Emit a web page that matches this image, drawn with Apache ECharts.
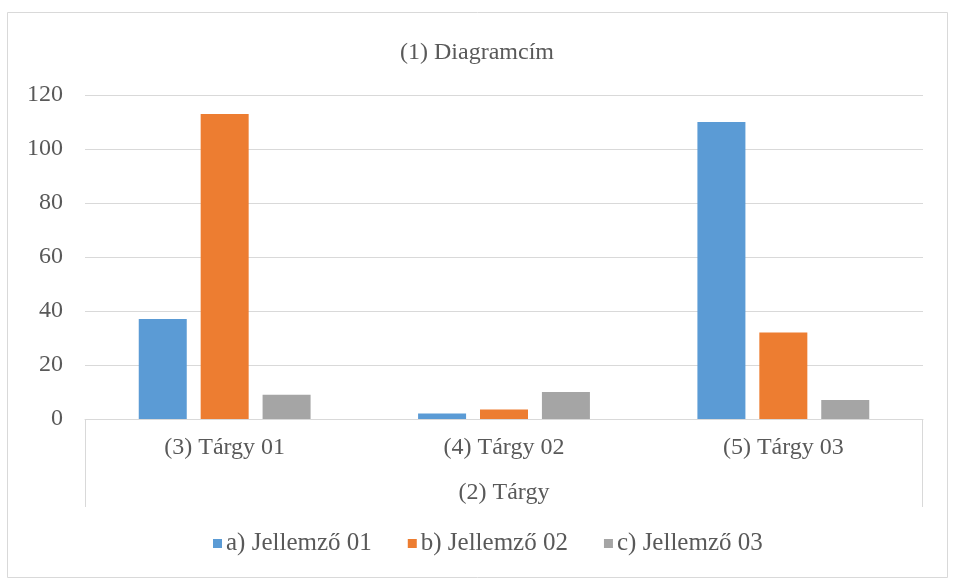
<!DOCTYPE html>
<html>
<head>
<meta charset="utf-8">
<script src="https://cdn.jsdelivr.net/npm/echarts@6/dist/echarts.min.js"></script>
<style>
  html, body { margin: 0; padding: 0; background: #ffffff; }
  #chart { width: 954px; height: 584px; }
</style>
</head>
<body>
<div id="chart"></div>
<script>
// Category labels, series names and values
const categories = ['(3) Tárgy 01', '(4) Tárgy 02', '(5) Tárgy 03'];
const seriesNames = ['a) Jellemző 01', 'b) Jellemző 02', 'c) Jellemző 03'];
const jellemzo01 = [37, 2, 110];
const jellemzo02 = [113, 3.5, 32];
const jellemzo03 = [9, 10, 7];
const yTicks = { min: 0, max: 120, interval: 20 };

const colors = ['#5B9BD5', '#ED7D31', '#A5A5A5'];
const textColor = '#595959';
const lineColor = '#D9D9D9';
const serif = '"Liberation Serif", "Times New Roman", serif';

const W = 954, H = 584;
const grid = { left: 85, right: 31, top: 95, bottom: 165 };
const axisY = H - grid.bottom;

const chart = echarts.init(document.getElementById('chart'), null, { renderer: 'canvas' });

const seriesData = [jellemzo01, jellemzo02, jellemzo03];

chart.setOption({
  backgroundColor: '#ffffff',
  animation: false,
  color: colors,
  title: {
    text: '(1) Diagramcím',
    left: 'center',
    top: 36,
    textStyle: { fontFamily: serif, fontSize: 24, fontWeight: 'normal', color: textColor }
  },
  grid: grid,
  legend: {
    bottom: 23,
    left: 208,
    icon: 'rect',
    itemWidth: 9,
    itemHeight: 9,
    itemGap: 36,
    textStyle: { fontFamily: serif, fontSize: 25, color: textColor, padding: [0, 0, 0, -1] },
    data: seriesNames
  },
  xAxis: {
    type: 'category',
    data: categories,
    name: '(2) Tárgy',
    nameLocation: 'middle',
    nameGap: 62,
    nameTextStyle: { fontFamily: serif, fontSize: 24, color: textColor },
    axisLine: { show: true, lineStyle: { color: lineColor, width: 1 } },
    axisTick: { show: false },
    axisLabel: { fontFamily: serif, fontSize: 24, color: textColor, margin: 17 }
  },
  yAxis: {
    type: 'value',
    min: yTicks.min,
    max: yTicks.max,
    interval: yTicks.interval,
    axisLine: { show: false },
    axisTick: { show: false },
    axisLabel: { fontFamily: serif, fontSize: 24, color: textColor, margin: 22 },
    splitLine: { lineStyle: { color: lineColor, width: 1 } }
  },
  series: seriesNames.map((name, i) => ({
    name: name,
    type: 'bar',
    data: seriesData[i],
    barWidth: 48,
    barGap: '29%',
    itemStyle: { color: colors[i] }
  })),
  graphic: [
    // outer chart frame
    {
      type: 'rect',
      shape: { x: 7.5, y: 12.5, width: 940, height: 565 },
      style: { fill: null, stroke: lineColor, lineWidth: 1 },
      silent: true
    },
    // side brackets of the category axis band
    {
      type: 'line',
      shape: { x1: grid.left + 0.5, y1: axisY, x2: grid.left + 0.5, y2: 507 },
      style: { stroke: lineColor, lineWidth: 1 },
      silent: true
    },
    {
      type: 'line',
      shape: { x1: W - grid.right - 0.5, y1: axisY, x2: W - grid.right - 0.5, y2: 507 },
      style: { stroke: lineColor, lineWidth: 1 },
      silent: true
    }
  ]
});
</script>
</body>
</html>
